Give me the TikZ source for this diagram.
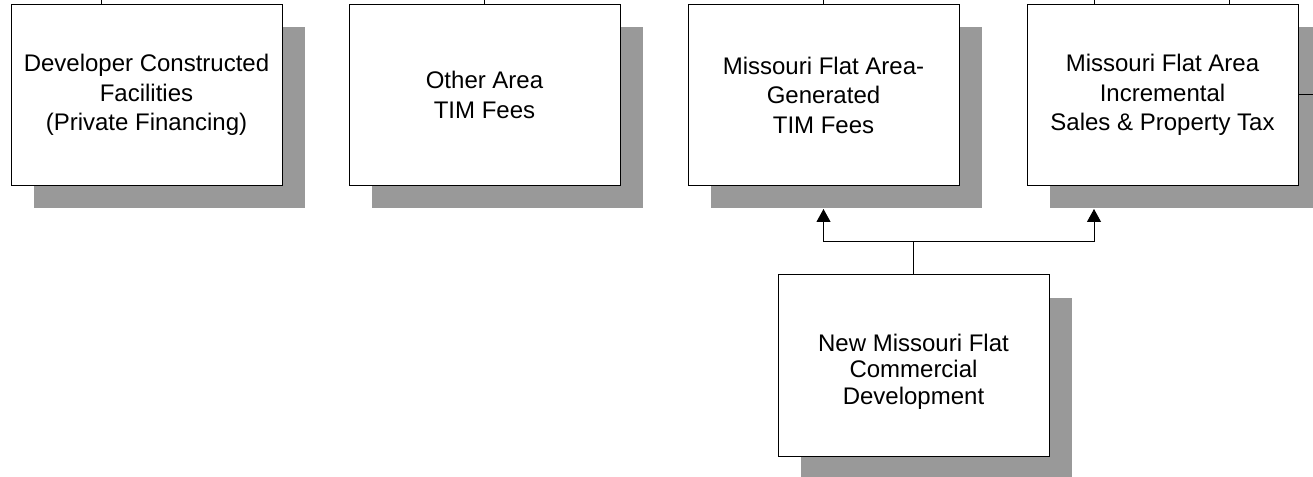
\documentclass[tikz,border=0pt]{standalone}
\usepackage{fontspec}
\setmainfont{Liberation Sans}
\usepackage{tikz}
\usepackage{xcolor}
\usetikzlibrary{shadows,arrows.meta}
\definecolor{shadowgray}{HTML}{999999}

\begin{document}
\begin{tikzpicture}[x=0.75pt,y=-0.75pt,
  fundbox/.style={draw=black, line width=0.75pt, fill=white, align=center,
    minimum width=203.25pt, minimum height=135.75pt, inner sep=0pt,
    font=\fontsize{18}{22.1}\selectfont,
    drop shadow={shadow xshift=17.25pt, shadow yshift=-17.25pt, fill=shadowgray, opacity=1}},
  link/.style={line width=0.75pt},
  feed/.style={line width=0.75pt, -{Triangle[width=10.5pt,length=9.75pt]}}]
\useasboundingbox (0,0) rectangle (1313,477);

% Top row: funding sources
\node[fundbox] (devfac) at (146.5,95) {Developer Constructed\\Facilities\\(Private Financing)};

\node[fundbox] (otherfees) at (484.5,95) {Other Area\\TIM Fees};

\node[fundbox] (mfgen) at (823.5,95) {Missouri Flat Area-\\Generated\\TIM Fees};

\node[fundbox] (mftax) at (1162.5,95) {Missouri Flat Area\\Incremental\\Sales \& Property Tax};

% Bottom: new development
\node[fundbox, font=\fontsize{18}{19.9}\selectfont] (newdev) at (913.5,365.5) {\rule{0pt}{22pt}New Missouri Flat\\Commercial\\Development};

% Lines leaving the top edge
\coordinate (devup) at (101,0);
\coordinate (taxleft) at (1094,0);
\coordinate (taxright) at (1229,0);
\coordinate (taxout) at (1313,95);
\draw[link] (devup) -- (devup |- devfac.north);
\draw[link] (otherfees.north) -- (otherfees.north |- devup);
\draw[link] (mfgen.north) -- (mfgen.north |- devup);
\draw[link] (taxleft) -- (taxleft |- mftax.north);
\draw[link] (taxright) -- (taxright |- mftax.north);
\draw[link] (mftax.east) -- (taxout);

% Arrows from the new development
\coordinate (split) at (913.5,242);
\coordinate (mfin) at ([yshift=-17.25pt]mfgen.south);
\coordinate (taxin) at (taxleft |- mfin);
\draw[link] (newdev.north) -- (split);
\draw[feed] (split) -| (mfin);
\draw[feed] (split) -| (taxin);
\end{tikzpicture}
\end{document}
